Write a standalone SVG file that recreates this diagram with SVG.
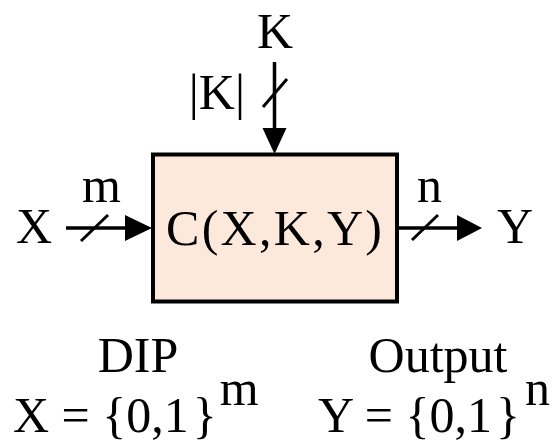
<svg xmlns="http://www.w3.org/2000/svg" width="559" height="443" viewBox="0 0 559 443">
<style>
text{font-family:"Liberation Serif","Times New Roman",serif;font-size:50px;fill:#000}
.ln{stroke:#000;stroke-width:3.5;fill:none}
.sl{stroke:#000;stroke-width:3;fill:none}
.ah{fill:#000}
</style>
<rect width="559" height="443" fill="#fff"/>
<g id="connectors">
<line class="ln" x1="274.5" y1="62" x2="274.5" y2="130"/>
<polygon class="ah" points="262.5,128 286.5,128 274.5,154"/>
<line class="sl" x1="263" y1="107" x2="287" y2="79"/>
<line class="ln" x1="66" y1="228" x2="127" y2="228"/>
<polygon class="ah" points="125,215 125,241 152,228"/>
<line class="sl" x1="81" y1="241" x2="108" y2="215"/>
<line class="ln" x1="397" y1="228" x2="459" y2="228"/>
<polygon class="ah" points="457,215 457,241 482,228"/>
<line class="sl" x1="412" y1="240" x2="438" y2="215"/>
</g>
<g id="node-C">
<rect x="153" y="154.5" width="244" height="147" fill="#fce9db" stroke="#000" stroke-width="4"/>
<text x="274" y="245" text-anchor="middle" font-size="52" textLength="216">C(X,K,Y)</text>
</g>
<g id="label-K">
<text x="275" y="48" text-anchor="middle">K</text>
<text x="245" y="109" text-anchor="end">|K|</text>
</g>
<g id="label-X">
<text x="16" y="243">X</text>
<text x="82" y="202">m</text>
</g>
<g id="label-Y">
<text x="497" y="243">Y</text>
<text x="417" y="202">n</text>
</g>
<g id="label-DIP">
<text x="138" y="372" text-anchor="middle" font-size="52">DIP</text>
<text x="13" y="432">X = {0,1<tspan dx="4">}</tspan><tspan dx="3" dy="-27">m</tspan></text>
</g>
<g id="label-Output">
<text x="438" y="372" text-anchor="middle" font-size="54">Output</text>
<text x="318" y="432">Y = {0,1<tspan dx="4">}</tspan><tspan dx="5" dy="-27">n</tspan></text>
</g>
</svg>
